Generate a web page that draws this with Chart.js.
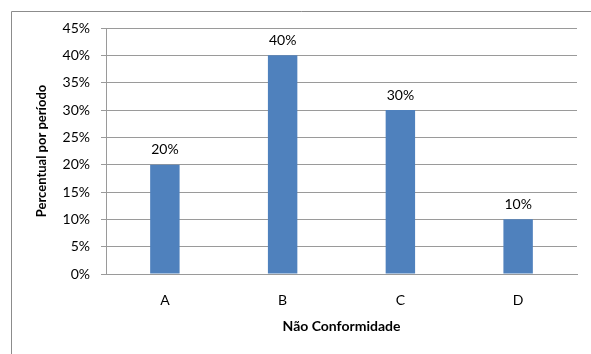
<!DOCTYPE html>
<html>
<head>
<meta charset="utf-8">
<script src="https://cdn.jsdelivr.net/npm/chart.js@4"></script>
<style>
  html, body { margin: 0; padding: 0; background: #ffffff; }
  #wrap { width: 591px; height: 354px; position: relative; }
</style>
</head>
<body>
<div id="wrap"><canvas id="c" width="591" height="354"></canvas></div>
<script>
// Share of non-conformities per period
const categories = ['A', 'B', 'C', 'D'];
const percentValues = [20, 40, 30, 10];
const yTickStep = 5;
const yMax = 45;

const FONT = 'Lato, "Open Sans", sans-serif';
const GRID = '#9a9a9a';

// Outer frame (left and top edges of the chart object)
const framePlugin = {
  id: 'frame',
  beforeDraw(chart) {
    const ctx = chart.ctx;
    ctx.save();
    ctx.strokeStyle = '#8c8c8c';
    ctx.lineWidth = 1;
    ctx.beginPath();
    ctx.moveTo(11.5, chart.height);
    ctx.lineTo(11.5, 11.5);
    ctx.lineTo(chart.width, 11.5);
    ctx.stroke();
    ctx.restore();
  }
};

// Value labels above each bar
const valueLabels = {
  id: 'valueLabels',
  afterDatasetsDraw(chart) {
    const ctx = chart.ctx;
    const meta = chart.getDatasetMeta(0);
    ctx.save();
    ctx.font = '14px ' + FONT;
    ctx.fillStyle = '#000000';
    ctx.textAlign = 'center';
    ctx.textBaseline = 'middle';
    meta.data.forEach((bar, i) => {
      ctx.fillText(percentValues[i] + '%', bar.x, bar.y - 15);
    });
    ctx.restore();
  }
};

new Chart(document.getElementById('c'), {
  type: 'bar',
  data: {
    labels: categories,
    datasets: [{
      data: percentValues,
      backgroundColor: '#4f81bd',
      borderWidth: 0,
      barPercentage: 0.25,
      categoryPercentage: 1.0
    }]
  },
  options: {
    responsive: false,
    animation: false,
    layout: { padding: { left: 0, right: 14, top: 28, bottom: 0 } },
    plugins: { legend: { display: false }, tooltip: { enabled: false } },
    scales: {
      x: {
        grid: { display: false, drawTicks: false },
        border: { display: true, color: GRID, width: 1 },
        ticks: { color: '#000000', font: { family: FONT, size: 14 }, padding: 18 },
        title: {
          display: true,
          text: 'Não Conformidade',
          color: '#000000',
          font: { family: FONT, size: 14, weight: 'bold' },
          padding: { top: 0, bottom: 19 }
        },
        afterFit(scale) { scale.height = 80; }
      },
      y: {
        min: 0,
        max: yMax,
        grid: { color: GRID, lineWidth: 1, tickLength: 5, drawTicks: true },
        border: { display: true, color: GRID, width: 1 },
        ticks: {
          stepSize: yTickStep,
          color: '#000000',
          font: { family: FONT, size: 14 },
          padding: 11,
          callback: v => v + '%'
        },
        title: {
          display: true,
          text: 'Percentual por período',
          color: '#000000',
          font: { family: FONT, size: 13, weight: 'bold' },
          padding: { top: 34, bottom: 0 }
        },
        afterFit(scale) { scale.width = 106; }
      }
    }
  },
  plugins: [framePlugin, valueLabels]
});
</script>
</body>
</html>
